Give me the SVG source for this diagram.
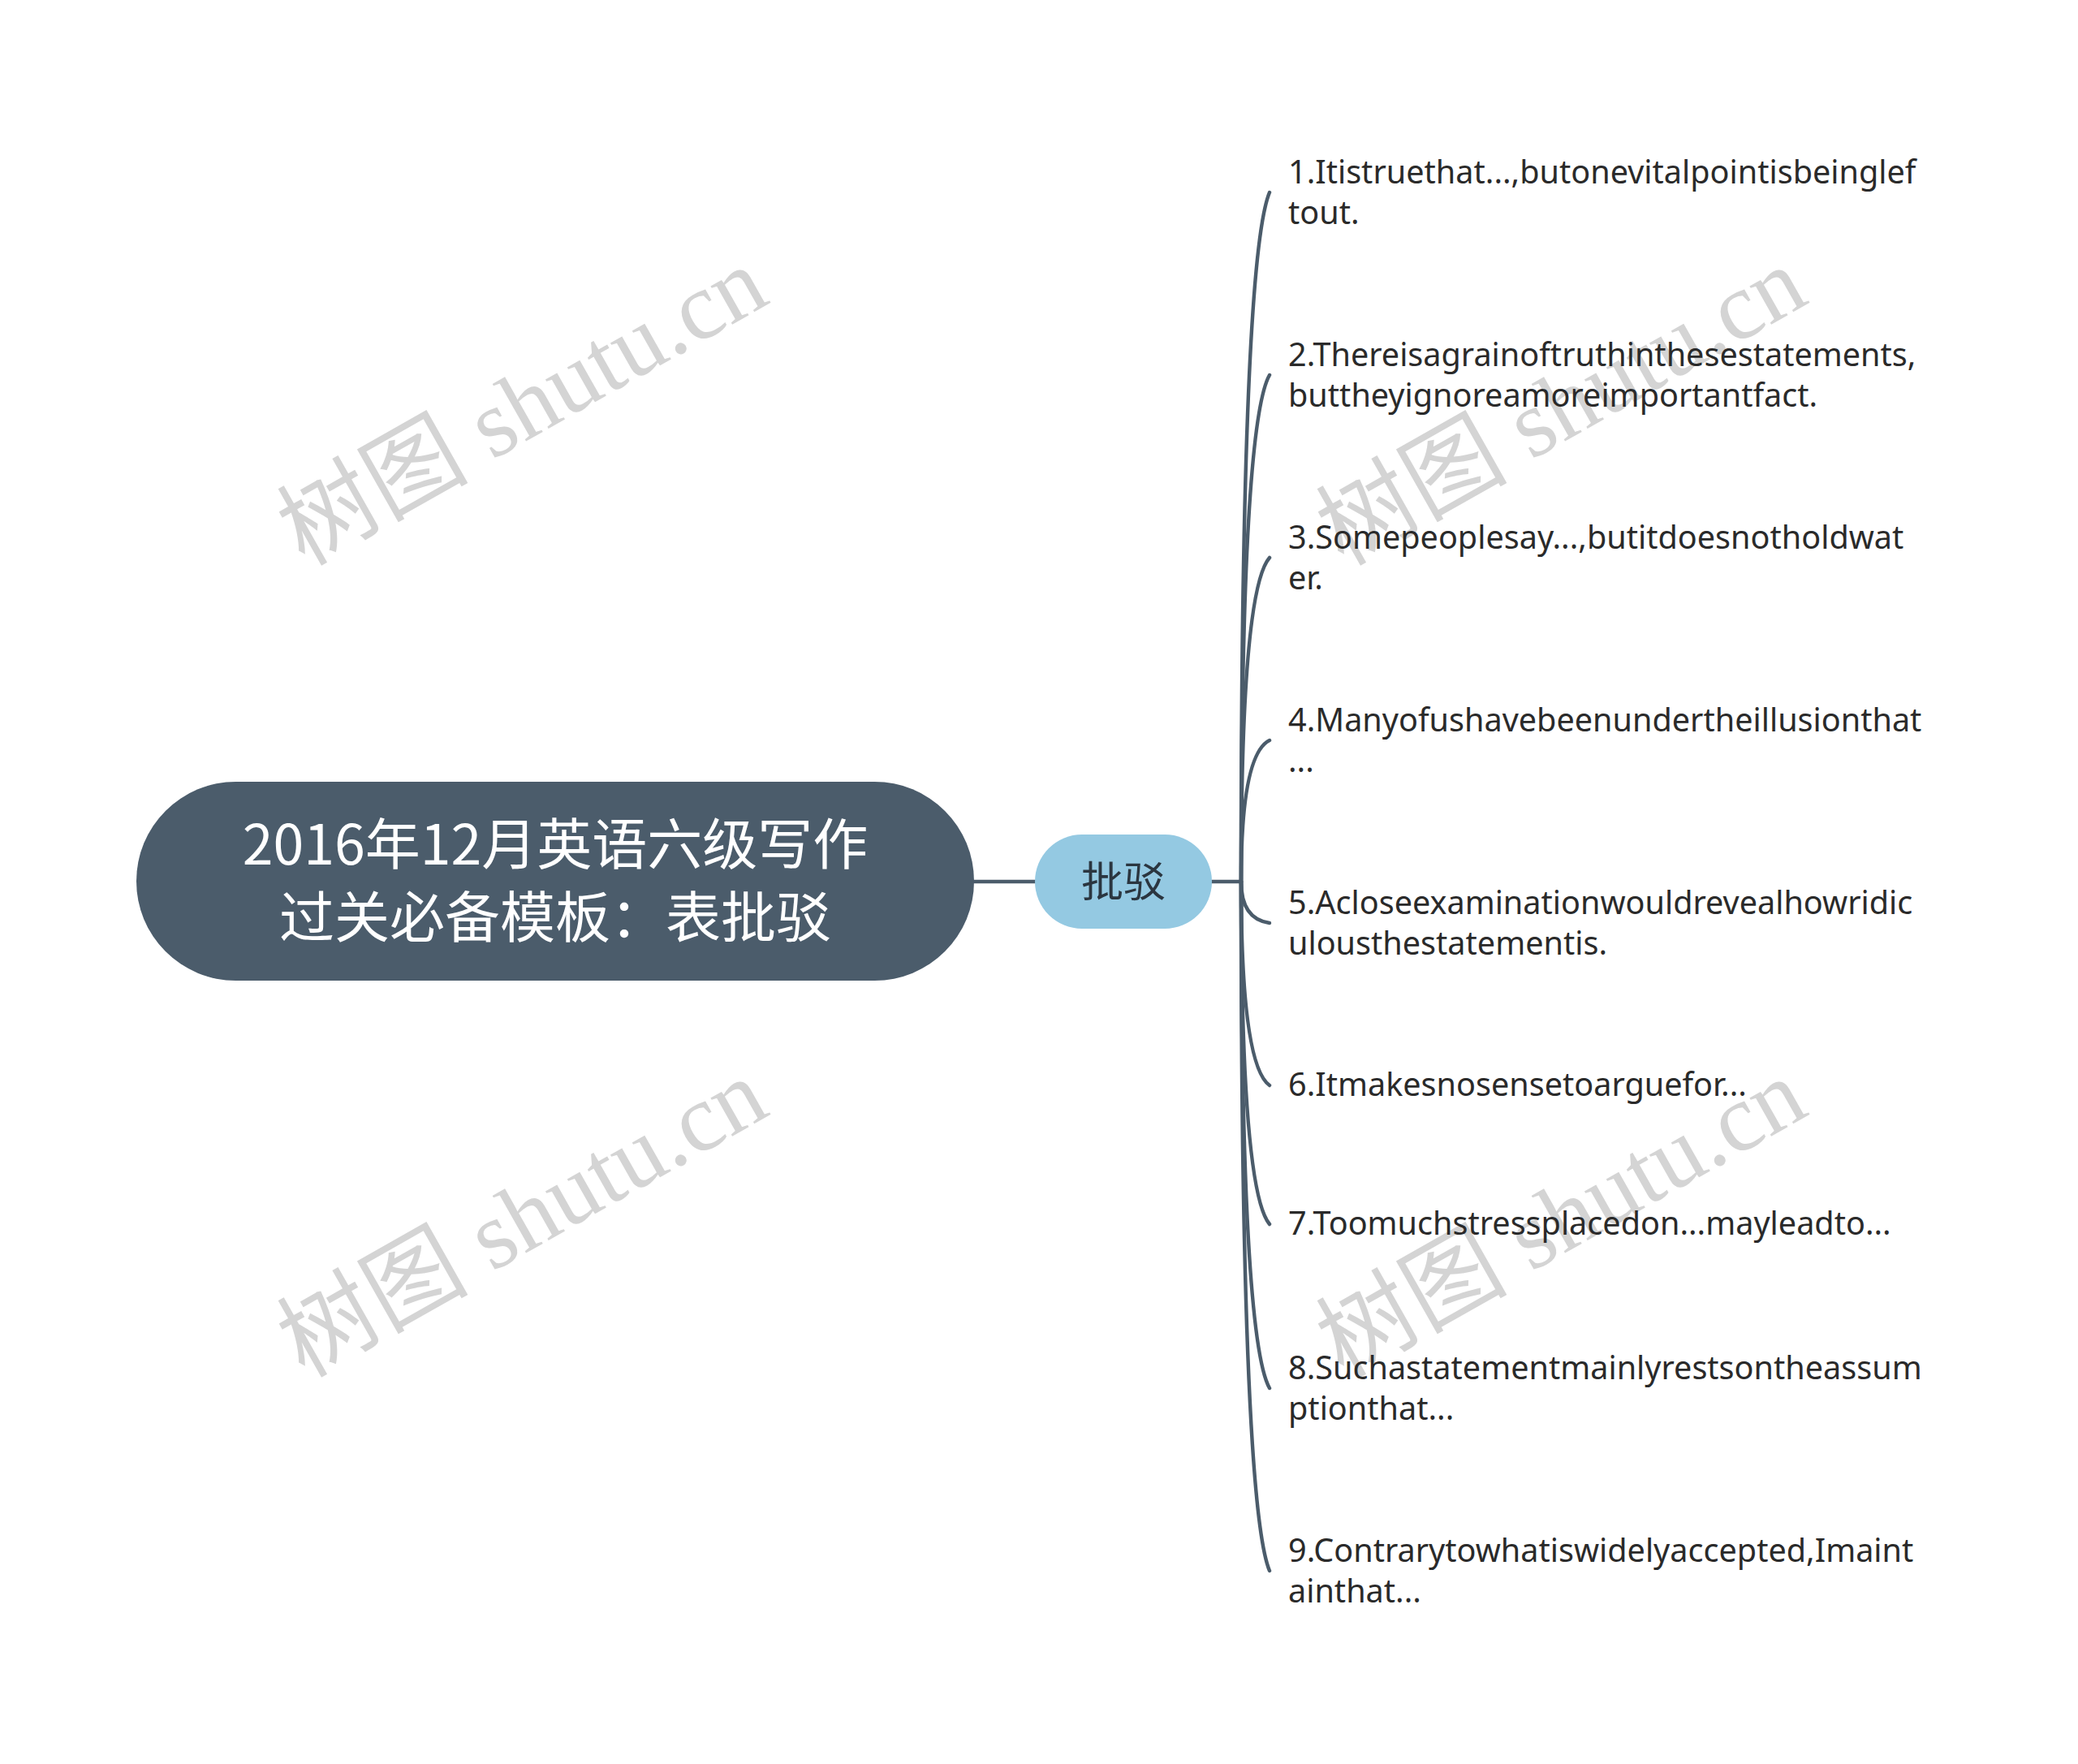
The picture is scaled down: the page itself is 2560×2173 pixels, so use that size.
<svg xmlns="http://www.w3.org/2000/svg" width="2560" height="2173" viewBox="0 0 2560 2173">
<style>
.wm{font-family:"Liberation Serif","Noto Sans CJK SC",serif;font-size:118px;fill:#d4d4d4;text-anchor:middle}
.conn{fill:none;stroke:#4b5c6b;stroke-width:4.5;stroke-linecap:round}
.root-box{fill:#4b5c6b}
.root-txt{font-family:"Noto Sans CJK SC",sans-serif;font-size:68px;fill:#ffffff;text-anchor:middle}
.mid-box{fill:#94c9e2}
.mid-txt{font-family:"Noto Sans CJK SC",sans-serif;font-size:52px;fill:#2b3640;text-anchor:middle}
.leaf{font-family:"Noto Sans","Noto Sans CJK SC",sans-serif;font-size:39.6px;fill:#2a2a2a}
</style>
<rect width="2560" height="2173" fill="#ffffff"/>
<g id="watermarks">
<text class="wm" transform="translate(663,535) rotate(-29.5)">树图 shutu.cn</text>
<text class="wm" transform="translate(1943,535) rotate(-29.5)">树图 shutu.cn</text>
<text class="wm" transform="translate(663,1535) rotate(-29.5)">树图 shutu.cn</text>
<text class="wm" transform="translate(1943,1535) rotate(-29.5)">树图 shutu.cn</text>
</g>
<g id="connectors">
<path class="conn" d="M1200 1086 H1275"/>
<path class="conn" d="M1493 1086 H1529"/>
<path class="conn" d="M1529 1086 Q1529 322 1564 237"/>
<path class="conn" d="M1529 1086 Q1529 524 1564 462"/>
<path class="conn" d="M1529 1086 Q1529 727 1564 687"/>
<path class="conn" d="M1529 1086 Q1529 929 1564 912"/>
<path class="conn" d="M1529 1086 Q1529 1132 1564 1137"/>
<path class="conn" d="M1529 1086 Q1529 1312 1564 1337"/>
<path class="conn" d="M1529 1086 Q1529 1466 1564 1508"/>
<path class="conn" d="M1529 1086 Q1529 1648 1564 1710"/>
<path class="conn" d="M1529 1086 Q1529 1850 1564 1935"/>
</g>
<g id="node-root">
<rect class="root-box" x="168" y="963" width="1032" height="245" rx="122.5"/>
<text class="root-txt" x="684" y="1065">2016年12月英语六级写作</text>
<text class="root-txt" x="684" y="1155">过关必备模板：表批驳</text>
</g>
<g id="node-pibo">
<rect class="mid-box" x="1275" y="1028" width="218" height="116" rx="58"/>
<text class="mid-txt" x="1384" y="1105">批驳</text>
</g>
<g id="node-1"><text class="leaf" x="1587" y="226">1.Itistruethat...,butonevitalpointisbeinglef</text><text class="leaf" x="1587" y="276">tout.</text></g>
<g id="node-2"><text class="leaf" x="1587" y="451">2.Thereisagrainoftruthinthesestatements,</text><text class="leaf" x="1587" y="501">buttheyignoreamoreimportantfact.</text></g>
<g id="node-3"><text class="leaf" x="1587" y="676">3.Somepeoplesay...,butitdoesnotholdwat</text><text class="leaf" x="1587" y="726">er.</text></g>
<g id="node-4"><text class="leaf" x="1587" y="901">4.Manyofushavebeenundertheillusionthat</text><text class="leaf" x="1587" y="951">...</text></g>
<g id="node-5"><text class="leaf" x="1587" y="1126">5.Acloseexaminationwouldrevealhowridic</text><text class="leaf" x="1587" y="1176">ulousthestatementis.</text></g>
<g id="node-6"><text class="leaf" x="1587" y="1350">6.Itmakesnosensetoarguefor...</text></g>
<g id="node-7"><text class="leaf" x="1587" y="1521">7.Toomuchstressplacedon...mayleadto...</text></g>
<g id="node-8"><text class="leaf" x="1587" y="1699">8.Suchastatementmainlyrestsontheassum</text><text class="leaf" x="1587" y="1749">ptionthat...</text></g>
<g id="node-9"><text class="leaf" x="1587" y="1924">9.Contrarytowhatiswidelyaccepted,Imaint</text><text class="leaf" x="1587" y="1974">ainthat...</text></g>
</svg>
